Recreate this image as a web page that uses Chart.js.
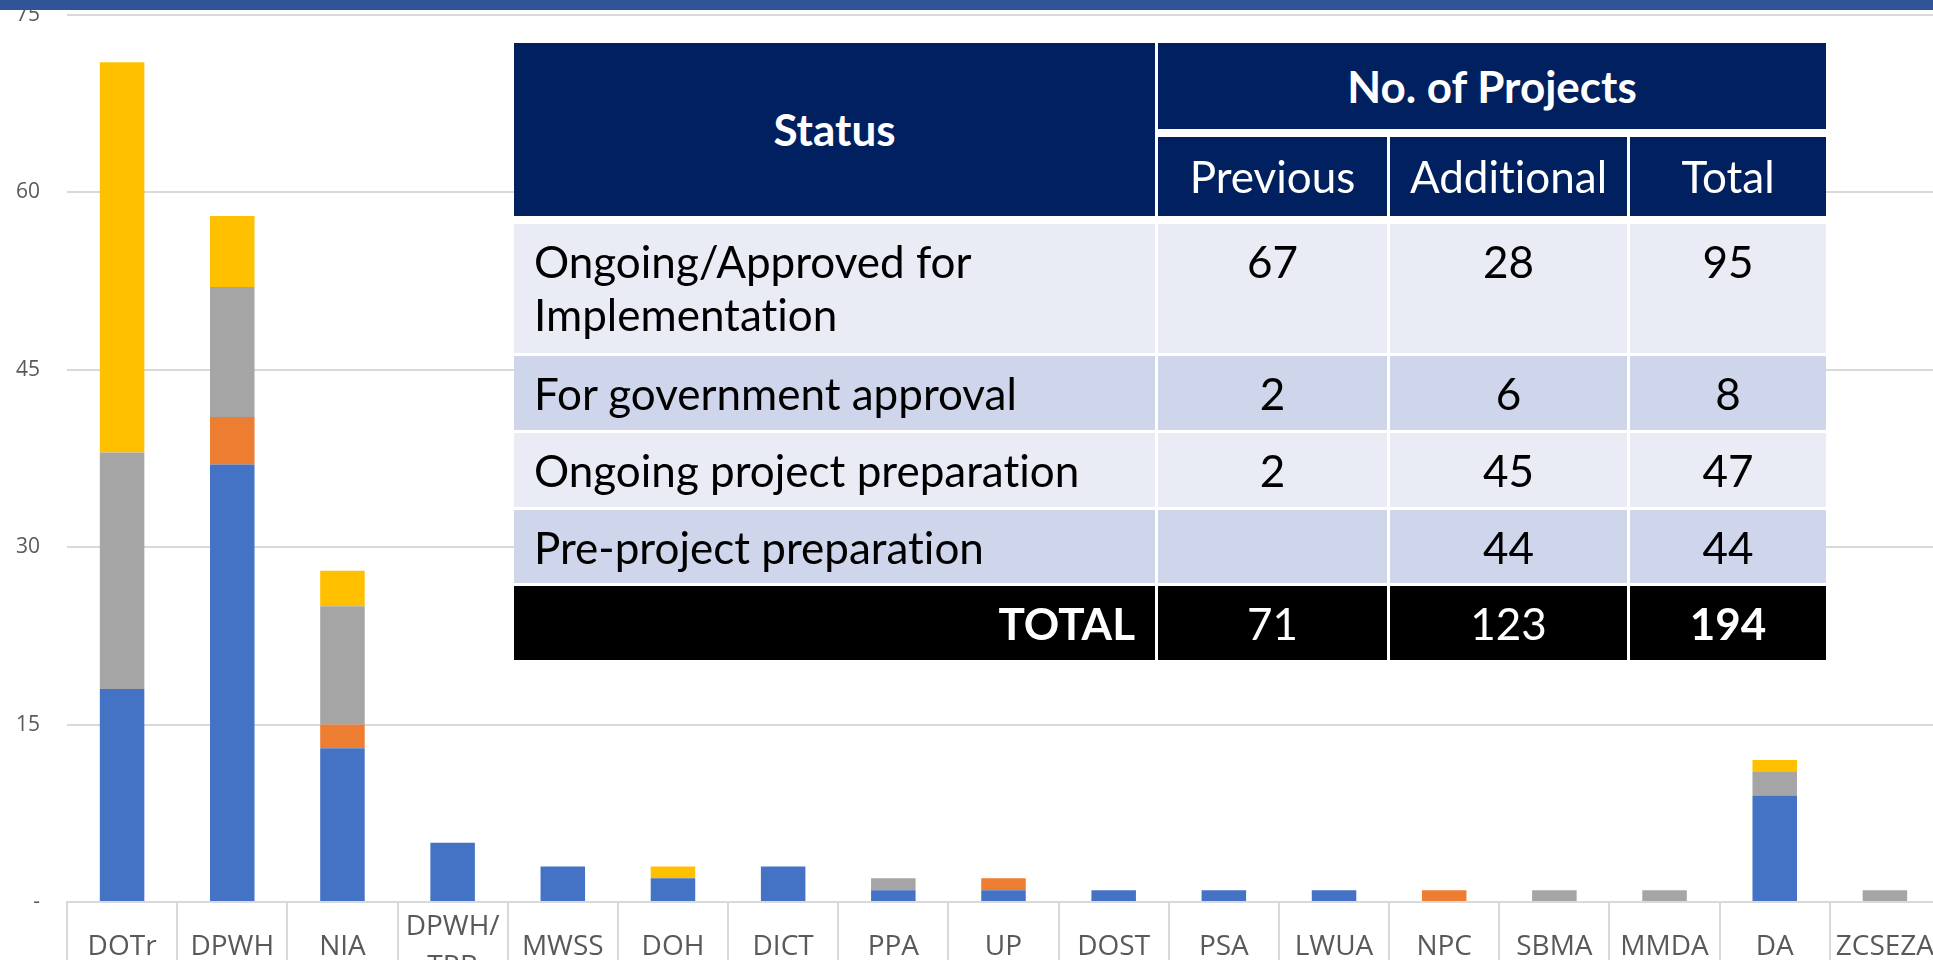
<!DOCTYPE html>
<html>
<head>
<meta charset="utf-8">
<script src="https://cdn.jsdelivr.net/npm/chart.js@4.4.1/dist/chart.umd.min.js"></script>
<style>
  html, body { margin: 0; padding: 0; width: 1933px; height: 960px; overflow: hidden; background: #fff; }
  #band { position: absolute; left: 0; top: 0; width: 1933px; height: 10px; background: #2F5597; z-index: 3; }
  #wrap { position: absolute; left: 0; top: 0; width: 1945px; height: 1000px; }
  #tbl {
    position: absolute; left: 514px; top: 43px; z-index: 2;
    display: grid;
    grid-template-columns: 644px 232px 240px 196px;
    grid-template-rows: 94px 87px 132px 77px 77px 76px 74px;
    font-family: Lato, "Open Sans", sans-serif;
    font-variant-ligatures: none;
  }
  .c {
    box-sizing: border-box; border-right: 3px solid #fff; border-bottom: 3px solid #fff;
    font-size: 44px; line-height: 53px; padding: 11px 20px 0 20px; color: #000;
    white-space: pre-line; text-align: center; overflow: hidden;
  }
  .c.first { text-align: left; }
  .c.last { border-right: none; }
  .c.head { background: #002060; color: #fff; display: flex; align-items: center; justify-content: center; padding: 0; border-bottom-width: 8px; }
  .c.bold { font-weight: bold; }
  .r0 { background: #E9EBF5; }
  .r1 { background: #CFD5EA; }
  .c.tot { background: #000; color: #fff; border-bottom: none; }
</style>
</head>
<body>
<div id="band"></div>
<div id="wrap"><canvas id="chart"></canvas></div>
<div id="tbl"></div>
<script>
// agencies on the x axis
const categories = ['DOTr', 'DPWH', 'NIA', ['DPWH/', 'TRB'], 'MWSS', 'DOH', 'DICT', 'PPA', 'UP',
  'DOST', 'PSA', 'LWUA', 'NPC', 'SBMA', 'MMDA', 'DA', 'ZCSEZA'];

// projects per agency, by status
const ongoingApproved = [18, 37, 13, 5, 3, 2, 3, 1, 1, 1, 1, 1, 0, 0, 0, 9, 0];
const forGovApproval  = [0, 4, 2, 0, 0, 0, 0, 0, 1, 0, 0, 0, 1, 0, 0, 0, 0];
const ongoingPrep     = [20, 11, 10, 0, 0, 0, 0, 1, 0, 0, 0, 0, 0, 1, 1, 2, 1];
const preProject      = [33, 6, 3, 0, 0, 1, 0, 0, 0, 0, 0, 0, 0, 0, 0, 1, 0];

const yTicks = [0, 15, 30, 45, 60, 75];

// summary table
const statusLabels = ['Ongoing/Approved for\nImplementation', 'For government approval',
  'Ongoing project preparation', 'Pre-project preparation'];
const previousCounts = [67, 2, 2, null];
const additionalCounts = [28, 6, 45, 44];
const totalCounts = [95, 8, 47, 44];
const grandTotals = [71, 123, 194];

const seriesNames = ['Ongoing/Approved for Implementation', 'For government approval',
  'Ongoing project preparation', 'Pre-project preparation'];
const seriesColors = ['#4472C4', '#ED7D31', '#A5A5A5', '#FFC000'];
const seriesData = [ongoingApproved, forGovApproval, ongoingPrep, preProject];

const tickFont = { family: "'Open Sans', sans-serif", size: 21 };
const catFont = { family: "'Open Sans', sans-serif", size: 28, lineHeight: 1.43 };

new Chart(document.getElementById('chart'), {
  type: 'bar',
  data: {
    labels: categories,
    datasets: seriesData.map((d, i) => ({
      label: seriesNames[i],
      data: d,
      backgroundColor: seriesColors[i],
      borderWidth: 0,
      barPercentage: 0.404,
      categoryPercentage: 1.0,
    })),
  },
  options: {
    responsive: true,
    maintainAspectRatio: false,
    animation: false,
    layout: { padding: { left: 0, right: 5, top: 15, bottom: 0 } },
    plugins: {
      legend: { display: false },
      tooltip: { enabled: false },
    },
    scales: {
      x: {
        stacked: true,
        grid: { offset: true, drawOnChartArea: false, drawTicks: true, tickLength: 100, color: '#D9D9D9', lineWidth: 2 },
        border: { display: true, color: '#D9D9D9', width: 2 },
        ticks: {
          font: catFont, color: '#595959', padding: -75, crossAlign: 'center',
          maxRotation: 0, autoSkip: false,
        },
        afterFit: s => { s.height = 98; s.paddingLeft = 0; s.paddingRight = 0; },
      },
      y: {
        stacked: true,
        min: 0,
        max: 75,
        grid: { color: '#D9D9D9', lineWidth: 2, drawTicks: false },
        border: { display: false },
        afterBuildTicks: s => { s.ticks = yTicks.map(v => ({ value: v })); },
        ticks: {
          font: tickFont, color: '#595959', padding: 27,
          callback: v => v === 0 ? '-' : v,
        },
        afterFit: s => { s.width = 67; s.paddingTop = 0; s.paddingBottom = 0; },
      },
    },
  },
});

// build the summary table
const tbl = document.getElementById('tbl');
function cell(text, cls, style) {
  const d = document.createElement('div');
  d.className = 'c ' + cls;
  d.textContent = text;
  if (style) d.setAttribute('style', style);
  tbl.appendChild(d);
}
cell('Status', 'head bold', 'grid-row: 1 / span 2; grid-column: 1;');
cell('No. of Projects', 'head bold last', 'grid-row: 1; grid-column: 2 / span 3;');
cell('Previous', 'head', 'grid-row: 2; grid-column: 2;');
cell('Additional', 'head', 'grid-row: 2; grid-column: 3;');
cell('Total', 'head last', 'grid-row: 2; grid-column: 4;');
statusLabels.forEach((s, i) => {
  const rc = 'r' + (i % 2);
  cell(s, 'first ' + rc);
  cell(previousCounts[i] === null ? '' : previousCounts[i], rc);
  cell(additionalCounts[i], rc);
  cell(totalCounts[i], rc + ' last');
});
cell('TOTAL', 'tot bold', 'text-align: right;');
cell(grandTotals[0], 'tot');
cell(grandTotals[1], 'tot');
cell(grandTotals[2], 'tot bold last');
</script>
</body>
</html>
